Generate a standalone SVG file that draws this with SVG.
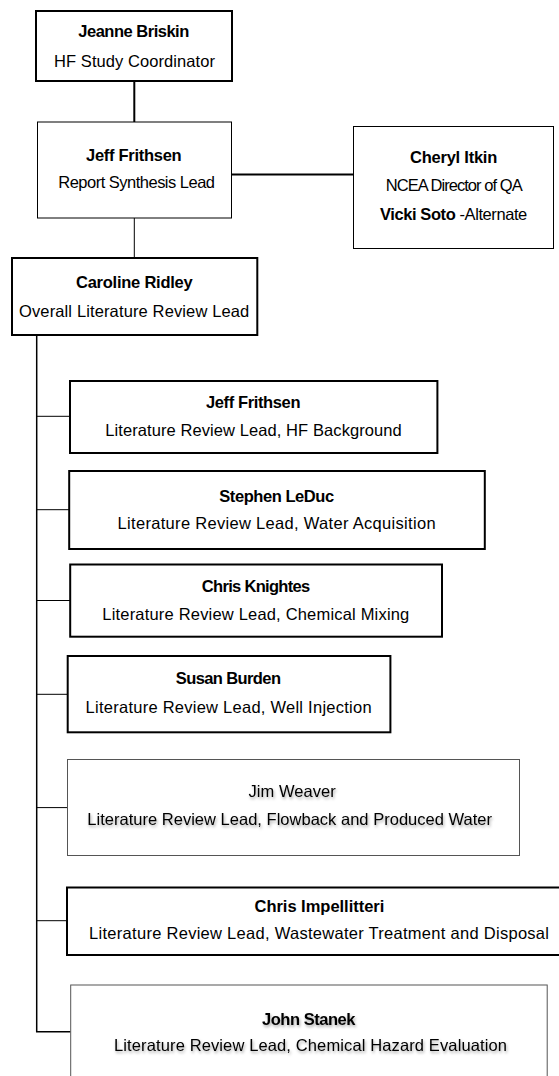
<svg xmlns="http://www.w3.org/2000/svg" width="559" height="1076" viewBox="0 0 559 1076">
  <defs>
    <style>
      .box { fill: #ffffff; stroke: #000000; }
      .thick { stroke-width: 2; }
      .thin { stroke-width: 1; }
      .soft { stroke: #555555; stroke-width: 1; }
      .t { font-family: "Liberation Sans", Arial, sans-serif; font-size: 16.5px; fill: #000000; }
      .b { font-weight: bold; }
      .conn { fill: none; stroke: #000000; }
      .shadowed { filter: url(#txtShadow); }
    </style>
    <filter id="txtShadow" x="-10%" y="-50%" width="120%" height="200%">
      <feDropShadow dx="1" dy="2" stdDeviation="1.4" flood-color="#000000" flood-opacity="0.35"/>
    </filter>
  </defs>
  <rect width="559" height="1076" fill="#ffffff"/>

  <g id="connectors">
    <line class="conn" x1="134.3" y1="81" x2="134.3" y2="122" stroke-width="2"/>
    <line class="conn" x1="231.3" y1="174.5" x2="353.3" y2="174.5" stroke-width="2"/>
    <line class="conn" x1="134.3" y1="218" x2="134.3" y2="258" stroke-width="1"/>
    <path class="conn" d="M36.7 335 V1031.7 H70.7" stroke-width="1.5"/>
    <line class="conn" x1="36.7" y1="416.3" x2="70" y2="416.3" stroke-width="1"/>
    <line class="conn" x1="36.7" y1="509.7" x2="69" y2="509.7" stroke-width="1"/>
    <line class="conn" x1="36.7" y1="600.5" x2="70" y2="600.5" stroke-width="1"/>
    <line class="conn" x1="36.7" y1="694.3" x2="68" y2="694.3" stroke-width="1"/>
    <line class="conn" x1="36.7" y1="807.6" x2="67.5" y2="807.6" stroke-width="1"/>
    <line class="conn" x1="36.7" y1="920.7" x2="67" y2="920.7" stroke-width="1"/>
  </g>

  <g id="node-briskin">
    <rect class="box thick" x="36" y="11" width="196" height="70"/>
    <text class="t b" x="78.3" y="36.7" textLength="111">Jeanne Briskin</text>
    <text class="t" x="54" y="66.7" textLength="161">HF Study Coordinator</text>
  </g>

  <g id="node-frithsen-synthesis">
    <rect class="box thin" x="37.5" y="122" width="194" height="96"/>
    <text class="t b" x="86" y="161" textLength="95.7">Jeff Frithsen</text>
    <text class="t" x="58.3" y="188.3" textLength="156.7">Report Synthesis Lead</text>
  </g>

  <g id="node-itkin">
    <rect class="box thin" x="353.5" y="126.5" width="200" height="122"/>
    <text class="t b" x="410" y="163.3" textLength="87.3">Cheryl Itkin</text>
    <text class="t" x="385.7" y="190.7" textLength="137">NCEA Director of QA</text>
    <text class="t" x="380" y="219.5" textLength="147.3"><tspan class="b">Vicki Soto</tspan> -Alternate</text>
  </g>

  <g id="node-ridley">
    <rect class="box thick" x="12" y="258" width="245.3" height="77"/>
    <text class="t b" x="76" y="288.3" textLength="116.7">Caroline Ridley</text>
    <text class="t" x="19" y="316.7" textLength="230.3">Overall Literature Review Lead</text>
  </g>

  <g id="node-frithsen-hf">
    <rect class="box thick" x="70" y="381" width="367.4" height="72"/>
    <text class="t b" x="206" y="408.3" textLength="94.5">Jeff Frithsen</text>
    <text class="t" x="105.2" y="436" textLength="296.6">Literature Review Lead, HF Background</text>
  </g>

  <g id="node-leduc">
    <rect class="box thick" x="69.2" y="471" width="415.6" height="78"/>
    <text class="t b" x="219.3" y="501.7" textLength="114.8">Stephen LeDuc</text>
    <text class="t" x="117.6" y="529" textLength="318">Literature Review Lead, Water Acquisition</text>
  </g>

  <g id="node-knightes">
    <rect class="box thick" x="70.2" y="564.5" width="371.8" height="72.2"/>
    <text class="t b" x="201.8" y="592" textLength="108.4">Chris Knightes</text>
    <text class="t" x="102.3" y="620" textLength="307">Literature Review Lead, Chemical Mixing</text>
  </g>

  <g id="node-burden">
    <rect class="box thick" x="67.7" y="656" width="322.7" height="76.3"/>
    <text class="t b" x="175.8" y="684.3" textLength="105.2">Susan Burden</text>
    <text class="t" x="85.6" y="713.3" textLength="286">Literature Review Lead, Well Injection</text>
  </g>

  <g id="node-weaver">
    <rect class="box soft" x="67.5" y="759.5" width="452" height="96"/>
    <text class="t shadowed" x="248.5" y="796.7" textLength="87.3">Jim Weaver</text>
    <text class="t shadowed" x="87.3" y="825" textLength="404.7">Literature Review Lead, Flowback and Produced Water</text>
  </g>

  <g id="node-impellitteri">
    <rect class="box thick" x="67" y="887.5" width="505" height="67.5"/>
    <text class="t b" x="254.5" y="911.7" textLength="129.8">Chris Impellitteri</text>
    <text class="t" x="89.1" y="939.3" textLength="459.9">Literature Review Lead, Wastewater Treatment and Disposal</text>
  </g>

  <g id="node-stanek">
    <rect class="box soft" x="70.7" y="985" width="476.5" height="110"/>
    <text class="t b shadowed" x="262" y="1024.5" textLength="93.4">John Stanek</text>
    <text class="t shadowed" x="114" y="1051" textLength="393">Literature Review Lead, Chemical Hazard Evaluation</text>
  </g>
</svg>
